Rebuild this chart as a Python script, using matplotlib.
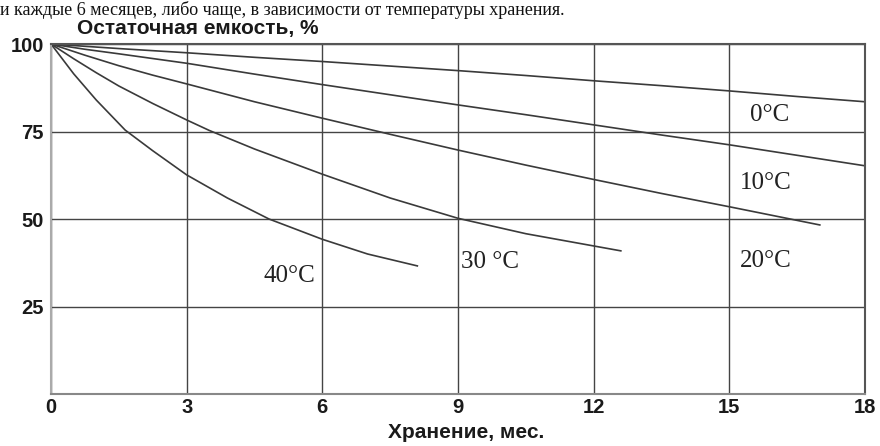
import numpy as np
import matplotlib
matplotlib.use('Agg')
import matplotlib.pyplot as plt

# storage time, months / remaining capacity, %
t_0 = [0, 1.5, 3, 4.5, 6, 7.5, 9, 10.5, 12, 13.5, 15, 16.5, 18]
c_0 = [100, 98.7, 97.5, 96.2, 95.0, 93.7, 92.4, 91.0, 89.5, 88.1, 86.6, 85.0, 83.5]
t_10 = [0, 0.75, 1.5, 3, 4.5, 6, 7.5, 9, 10.5, 12, 13.5, 15, 16.5, 18]
c_10 = [100, 98.5, 97.2, 94.5, 91.4, 88.4, 85.5, 82.6, 79.8, 76.9, 74.0, 71.2, 68.2, 65.2]
t_20 = [0, 0.75, 1.5, 2.25, 3, 4.5, 6, 7.5, 9, 10.5, 12, 13.5, 15, 17.0]
c_20 = [100, 96.8, 93.8, 91.1, 88.6, 83.5, 78.8, 74.2, 69.7, 65.4, 61.3, 57.3, 53.5, 48.3]
t_30 = [0, 0.5, 1, 1.5, 2.25, 3, 3.5, 4.5, 6, 7.5, 9, 10.5, 12, 12.6]
c_30 = [100, 95.8, 91.8, 88.0, 83.0, 78.3, 75.3, 70.0, 62.8, 56.0, 50.2, 45.8, 42.3, 40.9]
t_40 = [0, 0.5, 1.0, 1.64, 2.25, 3, 3.9, 4.82, 6, 7, 8.1]
c_40 = [100, 91.5, 84.0, 75.4, 69.5, 62.6, 56.0, 50.0, 44.2, 40.0, 36.6]

labels = ['0°C', '10°C', '20°C', '30 °C', '40°C']
label_x = [15.9, 15.8, 15.8, 9.7, 5.27]
label_y = [79.7, 60.3, 38.0, 37.7, 33.7]

x_ticks = [0, 3, 6, 9, 12, 15, 18]
y_ticks = [25, 50, 75, 100]

sans = ['Liberation Sans Narrow', 'Liberation Sans', 'DejaVu Sans']
serif = ['Liberation Serif', 'DejaVu Serif']

fig = plt.figure(figsize=(8.8, 4.46), dpi=100)
ax = fig.add_axes([0.058, 0.1166, 0.925, 0.7847])

line_col = '#3a3a3a'
for t, c in [(t_0, c_0), (t_10, c_10), (t_20, c_20), (t_30, c_30), (t_40, c_40)]:
	ax.plot(t, c, color=line_col, lw=1.2, solid_joinstyle='round')

for lab, lx, ly in zip(labels, label_x, label_y):
	ax.text(lx, ly, lab, family=serif, fontsize=18, ha='center', va='center', color='#222222')

ax.set_xlim(0, 18)
ax.set_ylim(0, 100)
ax.set_xticks(x_ticks)
ax.set_yticks(y_ticks)
ax.grid(True, color='#444444', lw=1.0)
ax.tick_params(length=0, labelsize=14.5)
ax.tick_params(axis='x', pad=3)
ax.tick_params(axis='y', pad=5)
for lab in ax.get_xticklabels() + ax.get_yticklabels():
	lab.set_family(sans)
	lab.set_fontweight('bold')
	lab.set_color('#1a1a1a')
for s in ax.spines.values():
	s.set_color('#555555')
	s.set_linewidth(1.5)
ax.spines['left'].set_color('#aaaaaa')
ax.spines['bottom'].set_color('#888888')

# axis titles: y title sits above the frame, x title below
fig.text(0.0875, 0.937, 'Остаточная емкость, %', family=sans, fontsize=15, fontweight='bold', ha='left', va='center', color='#1a1a1a')
fig.text(0.53, 0.031, 'Хранение, мес.', family=sans, fontsize=15, fontweight='bold', ha='center', va='center', color='#1a1a1a')

# line of the source page above the chart
fig.text(0.0, 0.998, 'и каждые 6 месяцев, либо чаще, в зависимости от температуры хранения.', family=serif, fontsize=13, ha='left', va='top', color='#111111')

fig.savefig('out.png', dpi=100)
plt.close()
